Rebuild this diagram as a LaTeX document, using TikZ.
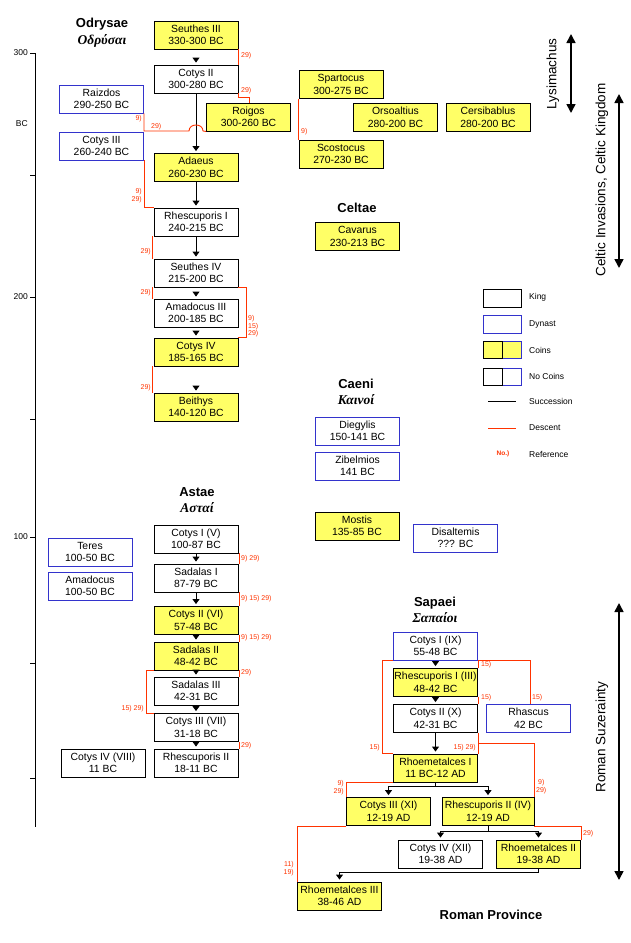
\documentclass[tikz,border=0pt]{standalone}
\usepackage{fontspec}
\setmainfont{Liberation Sans}
\newfontfamily\grk{Liberation Serif}
\usetikzlibrary{arrows.meta}
\definecolor{coinyel}{HTML}{FFFF66}
\definecolor{dynblue}{HTML}{3333CC}
\definecolor{descred}{HTML}{FF3300}
\begin{document}
\begin{tikzpicture}[x=1pt,y=-1pt,
  bx/.style={draw=black, line width=0.9pt, minimum width=84pt, minimum height=28pt, inner sep=0pt, align=center, font=\fontsize{10.4}{12.5}\selectfont, fill=white},
  kbox/.style={bx},
  dbox/.style={bx, draw=dynblue},
  ybox/.style={bx, fill=coinyel},
  succ/.style={draw=black, line width=0.9pt, -{Triangle[width=7pt,length=5pt]}, shorten >=2pt},
  desc/.style={draw=descred, line width=0.9pt},
  reflab/.style={text=descred, font=\fontsize{7}{7.5}\selectfont, inner sep=0pt},
  ttl/.style={font=\fontsize{13}{15}\selectfont\bfseries},
  gttl/.style={font=\fontsize{13.5}{15}\selectfont\grk\bfseries\itshape},
  sidetxt/.style={font=\fontsize{13.5}{15}\selectfont, rotate=90},
  bigarr/.style={line width=1.6pt, {Triangle[width=9pt,length=9pt]}-{Triangle[width=9pt,length=9pt]}},
  smalltxt/.style={font=\fontsize{8.5}{10}\selectfont, inner sep=0pt},
  lgbox/.style={minimum width=38pt, minimum height=18pt}
]
\useasboundingbox (0,0) rectangle (631,943);

% ---------- axis ----------
\coordinate (axtop) at (35,53);
\coordinate (axbot) at (35,827);
\draw[line width=0.9pt] (axtop) -- (axbot);
\foreach \yy in {53,175,297,419,537,663,778} \draw[line width=0.9pt] (30,\yy) -- (35,\yy);
\node[smalltxt, anchor=east] (ax300) at (28,53) {300};
\node[smalltxt, anchor=east] (axbc) at (28,124) {BC};
\node[smalltxt, anchor=east] (ax200) at (28,297) {200};
\node[smalltxt, anchor=east] (ax100) at (28,537) {100};

% ---------- titles ----------
\node[ttl] (tOd) at (102,24) {Odrysae};
\node[gttl] (gOd) at (102,41) {Οδρύσαι};
\node[ttl] (tCe) at (357,208) {Celtae};
\node[ttl] (tCa) at (356,384) {Caeni};
\node[gttl] (gCa) at (356,400) {Καινοί};
\node[ttl] (tAs) at (197,492) {Astae};
\node[gttl] (gAs) at (197,508) {Ασταί};
\node[ttl] (tSa) at (435,603) {Sapaei};
\node[gttl] (gSa) at (435,618) {Σαπαίοι};
\node[ttl] (tRP) at (491,915) {Roman Province};

% ---------- Odrysae ----------
\node[ybox] (seuthesiii) at (196,35) {Seuthes III\\330-300 BC};
\node[kbox] (cotysii) at (196,79) {Cotys II\\300-280 BC};
\node[dbox] (raizdos) at (101.5,99) {Raizdos\\290-250 BC};
\node[dbox] (cotysiii) at (101.5,146) {Cotys III\\260-240 BC};
\node[ybox] (roigos) at (248.5,117) {Roigos\\300-260 BC};
\node[ybox] (adaeus) at (196,167.5) {Adaeus\\260-230 BC};
\node[ybox] (spartocus) at (341,84.5) {Spartocus\\300-275 BC};
\node[ybox] (orsoaltius) at (395.5,117.5) {Orsoaltius\\280-200 BC};
\node[ybox] (cersibablus) at (488,117.5) {Cersibablus\\280-200 BC};
\node[ybox] (scostocus) at (341,154) {Scostocus\\270-230 BC};
\node[kbox] (rhescuporisi) at (196,222) {Rhescuporis I\\240-215 BC};
\node[kbox] (seuthesiv) at (196,273) {Seuthes IV\\215-200 BC};
\node[kbox] (amadocusiii) at (196,313) {Amadocus III\\200-185 BC};
\node[ybox] (cotysiv) at (196,352) {Cotys IV\\185-165 BC};
\node[ybox] (beithys) at (196,407) {Beithys\\140-120 BC};

% ---------- Celtae / Caeni ----------
\node[ybox] (cavarus) at (357.5,236.5) {Cavarus\\230-213 BC};
\node[dbox] (diegylis) at (357.5,431) {Diegylis\\150-141 BC};
\node[dbox] (zibelmios) at (357.5,466) {Zibelmios\\141 BC};
\node[ybox] (mostis) at (357,526) {Mostis\\135-85 BC};
\node[dbox] (disaltemis) at (455.5,538) {Disaltemis\\??? BC};

% ---------- Astae ----------
\node[kbox] (cotysv) at (196,539) {Cotys I (V)\\100-87 BC};
\node[kbox] (sadalasi) at (196,578) {Sadalas I\\87-79 BC};
\node[ybox] (cotysvi) at (196,620.5) {Cotys II (VI)\\57-48 BC};
\node[ybox] (sadalasii) at (196,656) {Sadalas II\\48-42 BC};
\node[kbox] (sadalasiii) at (196,691) {Sadalas III\\42-31 BC};
\node[kbox] (cotysvii) at (196,727.5) {Cotys III (VII)\\31-18 BC};
\node[kbox] (rhescuporisii) at (196,763) {Rhescuporis II\\18-11 BC};
\node[kbox] (cotysviii) at (103,763) {Cotys IV (VIII)\\11 BC};
\node[dbox] (teres) at (90,552) {Teres\\100-50 BC};
\node[dbox] (amadocus) at (90,586) {Amadocus\\100-50 BC};

% ---------- Sapaei ----------
\node[dbox] (cotysix) at (435.5,646) {Cotys I (IX)\\55-48 BC};
\node[ybox] (rhescuporisiii) at (435.5,682.5) {Rhescuporis I (III)\\48-42 BC};
\node[kbox] (cotysx) at (435.5,718.5) {Cotys II (X)\\42-31 BC};
\node[dbox] (rhascus) at (528.5,718.5) {Rhascus\\42 BC};
\node[ybox] (rhoemetalcesi) at (435.5,768) {Rhoemetalces I\\11 BC-12 AD};
\node[ybox] (cotysxi) at (388.5,811.5) {Cotys III (XI)\\12-19 AD};
\node[ybox, minimum width=92pt] (rhescuporisiv) at (488,811.5) {Rhescuporis II (IV)\\12-19 AD};
\node[kbox] (cotysxii) at (440.5,854) {Cotys IV (XII)\\19-38 AD};
\node[ybox] (rhoemetalcesii) at (538.5,854) {Rhoemetalces II\\19-38 AD};
\node[ybox] (rhoemetalcesiii) at (339.5,896) {Rhoemetalces III\\38-46 AD};

% ---------- succession ----------
\draw[succ, shorten <=9pt] (seuthesiii) -- (cotysii);
\draw[succ] (cotysii) -- (adaeus);
\draw[succ] (adaeus) -- (rhescuporisi);
\draw[succ] (rhescuporisi) -- (seuthesiv);
\draw[succ, shorten <=5pt] (seuthesiv) -- (amadocusiii);
\draw[succ, shorten <=4pt] (amadocusiii) -- (cotysiv);
\draw[succ, shorten <=20pt] (cotysiv) -- (beithys);
\draw[succ] (cotysv) -- (sadalasi);
\draw[succ] (sadalasi) -- (cotysvi);
\draw[succ, shorten <=1pt] (cotysvi) -- (sadalasii);
\draw[succ] (sadalasii) -- (sadalasiii);
\draw[succ, shorten <=2pt] (sadalasiii) -- (cotysvii);
\draw[succ, shorten <=1pt] (cotysvii) -- (rhescuporisii);
\draw[succ, shorten <=2pt] (cotysix) -- (rhescuporisiii);
\draw[succ, shorten <=1pt] (rhescuporisiii) -- (cotysx);
\draw[succ] (cotysx) -- (rhoemetalcesi);
\draw[succ] (rhoemetalcesi.south) -- ++(0,4) -| (cotysxi.north);
\draw[succ] (rhoemetalcesi.south) -- ++(0,4) -| (rhescuporisiv.north);
\draw[succ] (rhescuporisiv.south) -- ++(0,5) -| (cotysxii.north);
\draw[succ] (rhescuporisiv.south) -- ++(0,5) -| (rhoemetalcesii.north);
\draw[succ] (rhoemetalcesii.south) -- ++(0,4) -| (rhoemetalcesiii.north);

% ---------- descent ----------
\draw[desc] (seuthesiii.south east) -- (cotysii.north east);
\node[reflab, anchor=west] (r1) at (241,56) {29)};
\draw[desc] (cotysii.south east) -- ++(0,4) -| ([xshift=43pt]roigos.north west);
\node[reflab, anchor=west] (r2) at (241,91) {29)};
\coordinate (hop) at (196,131);
\draw[desc] (roigos.south west) -- ([xshift=7pt]hop) .. controls ([xshift=7pt,yshift=8pt]hop) and ([xshift=-7pt,yshift=8pt]hop) .. ([xshift=-7pt]hop) -| (raizdos.south east);
\node[reflab, anchor=east] (r3) at (142,119) {9)};
\node[reflab, anchor=west] (r4) at (151,127) {29)};
\draw[desc] (cotysiii.south east) |- (rhescuporisi.north west);
\node[reflab, anchor=east] (r5) at (142,192) {9)};
\node[reflab, anchor=east] (r6) at (142,200) {29)};
\draw[desc] (spartocus.south west) -- (scostocus.north west);
\node[reflab, anchor=west] (r7) at (301,132) {9)};
\draw[desc] ([xshift=-1pt]rhescuporisi.south west) -- ([xshift=-1pt]seuthesiv.north west);
\node[reflab, anchor=east] (r8) at (151,252) {29)};
\draw[desc] ([xshift=-1pt]seuthesiv.south west) -- ([xshift=-1pt]amadocusiii.north west);
\node[reflab, anchor=east] (r9) at (151,293) {29)};
\draw[desc] (seuthesiv.south east) -- ++(8,0) |- (cotysiv.north east);
\node[reflab, anchor=west] (r10) at (248,319) {9)};
\node[reflab, anchor=west] (r11) at (248,326.5) {15)};
\node[reflab, anchor=west] (r12) at (248,334) {29)};
\draw[desc] ([xshift=-1pt]cotysiv.south west) -- ([xshift=-1pt]beithys.north west);
\node[reflab, anchor=east] (r13) at (151,388) {29)};

\draw[desc] ([xshift=1pt]cotysv.south east) -- ([xshift=1pt]sadalasi.north east);
\node[reflab, anchor=west] (r14) at (241,559) {9) 29)};
\draw[desc] ([xshift=1pt]sadalasi.south east) -- ([xshift=1pt]cotysvi.north east);
\node[reflab, anchor=west] (r15) at (241,599) {9) 15) 29)};
\draw[desc] ([xshift=1pt]cotysvi.south east) -- ([xshift=1pt]sadalasii.north east);
\node[reflab, anchor=west] (r16) at (241,638) {9) 15) 29)};
\draw[desc] ([xshift=1pt]sadalasii.south east) -- ([xshift=1pt]sadalasiii.north east);
\node[reflab, anchor=west] (r17) at (241,673) {29)};
\draw[desc] (sadalasii.south west) -- ++(-7,0) |- (cotysvii.north west);
\node[reflab, anchor=east] (r18) at (144,709) {15) 29)};
\draw[desc] ([xshift=1pt]cotysvii.south east) -- ([xshift=1pt]rhescuporisii.north east);
\node[reflab, anchor=west] (r19) at (241,746) {29)};

\draw[desc] (cotysix.south west) -- ++(-11,0) |- (rhoemetalcesi.north west);
\node[reflab, anchor=east] (r20) at (380,748) {15)};
\draw[desc] (cotysix.south east) -| ([xshift=1.5pt]rhascus.north);
\node[reflab, anchor=west] (r21) at (532,698) {15)};
\draw[desc] (cotysix.south east) -- (rhescuporisiii.north east);
\node[reflab, anchor=west] (r22) at (481,665) {15)};
\draw[desc] (rhescuporisiii.south east) -- (cotysx.north east);
\node[reflab, anchor=west] (r23) at (481,698) {15)};
\draw[desc] (cotysx.south east) -- (rhoemetalcesi.north east);
\node[reflab, anchor=east] (r24) at (476,748) {15) 29)};
\draw[desc] (cotysx.south east) -- ++(0,10) -| (rhescuporisiv.north east);
\node[reflab, anchor=west] (r25) at (538,783) {9)};
\node[reflab, anchor=west] (r26) at (536,791) {29)};
\draw[desc] (rhoemetalcesi.south west) -| (cotysxi.north west);
\node[reflab, anchor=east] (r27) at (344,784) {9)};
\node[reflab, anchor=east] (r28) at (344,792) {29)};
\draw[desc] (rhescuporisiv.south east) -| (rhoemetalcesii.north east);
\node[reflab, anchor=west] (r29) at (583,834) {29)};
\draw[desc] (cotysxi.south west) -| (rhoemetalcesiii.north west);
\node[reflab, anchor=east] (r30) at (294,865) {11)};
\node[reflab, anchor=east] (r31) at (294,873) {19)};

% ---------- side arrows ----------
\coordinate (lysA) at (571,34);
\coordinate (lysB) at (571,113);
\draw[bigarr] (lysA) -- (lysB);
\node[sidetxt] (lys) at (553,74) {Lysimachus};
\coordinate (celA) at (619,94);
\coordinate (celB) at (619,268);
\draw[bigarr] (celA) -- (celB);
\node[sidetxt] (cel) at (602,180) {Celtic Invasions, Celtic Kingdom};
\coordinate (romA) at (619,603);
\coordinate (romB) at (619,880);
\draw[bigarr] (romA) -- (romB);
\node[sidetxt] (rom) at (602,737) {Roman Suzerainty};

% ---------- legend ----------
\node[kbox, lgbox] (lgking) at (502,298) {};
\node[dbox, lgbox] (lgdyn) at (502,324) {};
\node[ybox, draw=dynblue, minimum width=19pt, minimum height=17pt] (lgcoinr) at (511.5,350) {};
\node[ybox, minimum width=19pt, minimum height=17pt] (lgcoinl) at (492.5,350) {};
\node[dbox, minimum width=19pt, minimum height=17pt] (lgnor) at (511.5,376.5) {};
\node[kbox, minimum width=19pt, minimum height=17pt] (lgnol) at (492.5,376.5) {};
\coordinate (lgs1) at (488,401);
\coordinate (lgs2) at (516,401);
\draw[line width=0.9pt] (lgs1) -- (lgs2);
\coordinate (lgd1) at (488,428);
\coordinate (lgd2) at (516,428);
\draw[desc] (lgd1) -- (lgd2);
\node[reflab, font=\fontsize{6.5}{7}\selectfont\bfseries] (lgref) at (503,454) {No.)};
\node[smalltxt, anchor=west] (lk) at (529,297) {King};
\node[smalltxt, anchor=west] (ld) at (529,324) {Dynast};
\node[smalltxt, anchor=west] (lc) at (529,350) {Coins};
\node[smalltxt, anchor=west] (ln) at (529,376) {No Coins};
\node[smalltxt, anchor=west] (ls) at (529,401) {Succession};
\node[smalltxt, anchor=west] (lde) at (529,428) {Descent};
\node[smalltxt, anchor=west] (lr) at (529,454) {Reference};
\end{tikzpicture}
\end{document}
